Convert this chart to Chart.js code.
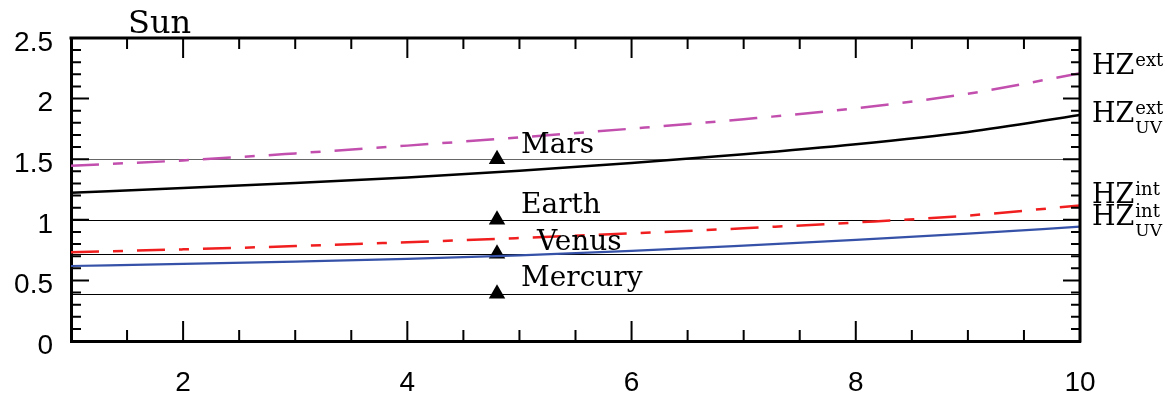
<!DOCTYPE html>
<html>
<head>
<meta charset="utf-8">
<script src="https://cdn.jsdelivr.net/npm/chart.js@4/dist/chart.umd.min.js"></script>
<style>
  html, body { margin: 0; padding: 0; background: #fff; }
  #wrap { width: 1167px; height: 398px; }
</style>
</head>
<body>
<div id="wrap"><canvas id="c" width="1167" height="398"></canvas></div>
<script>
// Stellar age (x) and habitable-zone boundaries in AU
const ages     = [1, 2, 3, 4, 5, 6, 7, 8, 9, 10];
const hzExt    = [1.446, 1.490, 1.548, 1.612, 1.680, 1.752, 1.830, 1.920, 2.040, 2.209];
const hzExtUV  = [1.224, 1.262, 1.303, 1.350, 1.405, 1.468, 1.540, 1.623, 1.725, 1.865];
const hzInt    = [0.732, 0.756, 0.783, 0.815, 0.850, 0.888, 0.930, 0.978, 1.035, 1.118];
const hzIntUV  = [0.619, 0.636, 0.655, 0.677, 0.706, 0.743, 0.787, 0.834, 0.886, 0.943];

// Solar-system planets at the present solar age
const planetNames = ['Mercury', 'Venus', 'Earth', 'Mars'];
const planetDist  = [0.39, 0.72, 1.0, 1.5];
const sunAge      = 4.8;

// Axis ticks
const xTickValues = [2, 4, 6, 8, 10];
const yTickValues = [0, 0.5, 1, 1.5, 2, 2.5];

// Label placement (pixel offsets from each planet marker)
const planetLabelOffsets = [[24, -8], [40, -3.5], [24, -6.5], [24, -6]];

const serif = '"DejaVu Serif", "Liberation Serif", serif';
const sans = '"Liberation Sans", Arial, sans-serif';

function xy(xs, ys) { return xs.map((x, i) => ({ x: x, y: ys[i] })); }

const dashLong = [28, 14, 10, 14];

const framePlugin = {
  id: 'frame',
  beforeDatasetsDraw(chart) {
    const { ctx, chartArea: a, scales } = chart;
    ctx.save();
    ctx.lineWidth = 1.2;
    planetDist.forEach((d, i) => {
      const y = Math.round(scales.y.getPixelForValue(d)) + 0.5;
      ctx.strokeStyle = i === 3 ? '#666' : '#000';
      ctx.beginPath();
      ctx.moveTo(a.left, y);
      ctx.lineTo(a.right, y);
      ctx.stroke();
    });
    ctx.restore();
  },
  afterDatasetsDraw(chart) {
    const { ctx, chartArea: a, scales } = chart;
    const sx = scales.x, sy = scales.y;
    ctx.save();
    // inward tick marks on all four sides
    ctx.strokeStyle = '#000';
    ctx.lineWidth = 2;
    ctx.beginPath();
    for (let i = 1; i < 25; i++) {
      const v = i / 10;
      const y = sy.getPixelForValue(v);
      const major = i % 5 === 0;
      ctx.moveTo(a.left, y); ctx.lineTo(a.left + (major ? 18 : 10), y);
      ctx.moveTo(a.right, y); ctx.lineTo(a.right - (major ? 17 : 9), y);
    }
    for (let i = 1; i < 18; i++) {
      const v = 1 + i * 0.5;
      const x = sx.getPixelForValue(v);
      const major = v % 2 === 0;
      ctx.moveTo(x, a.bottom); ctx.lineTo(x, a.bottom - (major ? 20 : 11));
      ctx.moveTo(x, a.top); ctx.lineTo(x, a.top + (major ? 20 : 11));
    }
    ctx.stroke();
    // top and right frame edges
    ctx.lineWidth = 3;
    ctx.beginPath();
    ctx.moveTo(a.left - 1.5, a.top);
    ctx.lineTo(a.right, a.top);
    ctx.lineTo(a.right, a.bottom + 1.5);
    ctx.stroke();

    // planet names
    ctx.fillStyle = '#000';
    ctx.textBaseline = 'alphabetic';
    ctx.textAlign = 'left';
    ctx.font = '28px ' + serif;
    planetNames.forEach((name, i) => {
      const x = sx.getPixelForValue(sunAge) + planetLabelOffsets[i][0];
      const y = sy.getPixelForValue(planetDist[i]) + planetLabelOffsets[i][1];
      ctx.fillText(name, x, y);
    });

    // star name
    ctx.font = '32px ' + serif;
    ctx.fillText('Sun', a.left + 57, a.top - 5);

    // habitable-zone boundary names
    const hzLabels = [
      { sup: 'ext', sub: '',   dy: 36 },
      { sup: 'ext', sub: 'UV', dy: 84 },
      { sup: 'int', sub: '',   dy: 165 },
      { sup: 'int', sub: 'UV', dy: 187 }
    ];
    hzLabels.forEach(l => {
      const x = a.right + 12;
      const y = a.top + l.dy;
      ctx.font = '27px ' + serif;
      ctx.fillText('HZ', x, y);
      const w = ctx.measureText('HZ').width;
      ctx.font = '18px ' + serif;
      ctx.fillText(l.sup, x + w + 1, y - 8);
      if (l.sub) {
        ctx.font = '17px ' + serif;
        ctx.fillText(l.sub, x + w + 1, y + 11);
      }
    });
    ctx.restore();
  }
};

const ctx = document.getElementById('c').getContext('2d');
new Chart(ctx, {
  type: 'line',
  data: {
    datasets: [
      {
        label: 'HZ ext',
        data: xy(ages, hzExt),
        borderColor: '#c24fae',
        borderWidth: 2.5,
        borderDash: dashLong,
        pointRadius: 0,
        cubicInterpolationMode: 'monotone'
      },
      {
        label: 'HZ ext UV',
        data: xy(ages, hzExtUV),
        borderColor: '#000000',
        borderWidth: 2.5,
        pointRadius: 0,
        cubicInterpolationMode: 'monotone'
      },
      {
        label: 'HZ int',
        data: xy(ages, hzInt),
        borderColor: '#f01e1e',
        borderWidth: 2.5,
        borderDash: dashLong,
        pointRadius: 0,
        cubicInterpolationMode: 'monotone'
      },
      {
        label: 'HZ int UV',
        data: xy(ages, hzIntUV),
        borderColor: '#3552a8',
        borderWidth: 2.2,
        pointRadius: 0,
        cubicInterpolationMode: 'monotone'
      },
      {
        label: 'Planets',
        data: planetDist.map(d => ({ x: sunAge, y: d })),
        showLine: false,
        pointStyle: 'triangle',
        pointRadius: 9.5,
        pointBackgroundColor: '#000',
        pointBorderColor: '#000',
        pointBorderWidth: 0
      }
    ]
  },
  options: {
    responsive: false,
    animation: false,
    devicePixelRatio: 1,
    layout: { padding: { top: 38, right: 87, bottom: 0, left: 0 } },
    plugins: {
      legend: { display: false },
      tooltip: { enabled: false },
      title: { display: false }
    },
    scales: {
      x: {
        type: 'linear',
        min: 1,
        max: 10,
        afterFit(s) { s.height = 57; },
        afterBuildTicks(s) { s.ticks = xTickValues.map(v => ({ value: v })); },
        grid: { drawOnChartArea: false, drawTicks: false },
        border: { display: true, color: '#000', width: 3 },
        ticks: {
          color: '#000',
          font: { family: sans, size: 28 },
          padding: 25,
          maxRotation: 0,
          callback: v => String(v)
        }
      },
      y: {
        type: 'linear',
        min: 0,
        max: 2.5,
        afterFit(s) { s.width = 71; },
        afterBuildTicks(s) { s.ticks = yTickValues.map(v => ({ value: v })); },
        grid: { drawOnChartArea: false, drawTicks: false },
        border: { display: true, color: '#000', width: 3 },
        ticks: {
          color: '#000',
          font: { family: sans, size: 28 },
          padding: 18,
          labelOffset: 5,
          callback: v => String(v)
        }
      }
    }
  },
  plugins: [framePlugin]
});
</script>
</body>
</html>
